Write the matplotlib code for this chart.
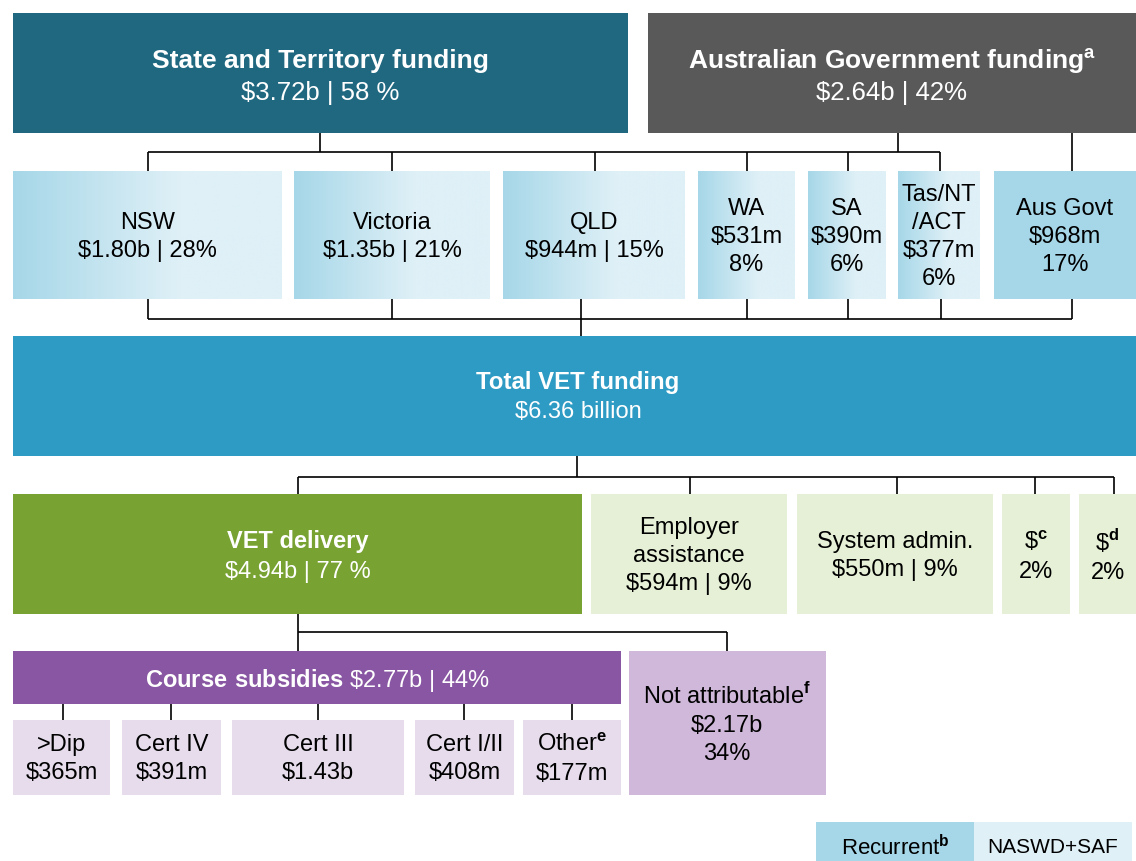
import matplotlib
matplotlib.use("Agg")
import numpy as np
from matplotlib import pyplot as plt
from matplotlib.patches import Rectangle
from matplotlib.colors import LinearSegmentedColormap

plt.rcParams['font.family'] = ['Liberation Sans', 'DejaVu Sans']
plt.rcParams['mathtext.fontset'] = 'custom'
plt.rcParams['mathtext.rm'] = 'Liberation Sans'
plt.rcParams['mathtext.bf'] = 'Liberation Sans:bold'

# funding sources
source_names = ["State and Territory funding", r"Australian Government funding$^{\mathbf{a}}$"]
source_values = ["$3.72b | 58 %", "$2.64b | 42%"]

# jurisdictions (last one is the Aus Govt recurrent share)
jur_names = ["NSW", "Victoria", "QLD", "WA", "SA", "Tas/NT\n/ACT", "Aus Govt"]
jur_amounts = ["$1.80b", "$1.35b", "$944m", "$531m", "$390m", "$377m", "$968m"]
jur_shares = ["28%", "21%", "15%", "8%", "6%", "6%", "17%"]

total_name = "Total VET funding"
total_value = "$6.36 billion"

# uses of funding
use_names = ["VET delivery", "Employer\nassistance", "System admin.",
             r"\$$^{\mathbf{c}}$", r"\$$^{\mathbf{d}}$"]
use_amounts = ["$4.94b", "$594m", "$550m", "", ""]
use_shares = ["77 %", "9%", "9%", "2%", "2%"]

subsidy_value = "$2.77b | 44%"
not_attr_amount = "$2.17b"
not_attr_share = "34%"

levels = [">Dip", "Cert IV", "Cert III", "Cert I/II", r"Other$^{\mathbf{e}}$"]
level_amounts = ["$365m", "$391m", "$1.43b", "$408m", "$177m"]

legend_labels = [r"Recurrent$^{\mathbf{b}}$", "NASWD+SAF"]

# colours
teal = "#1f6880"
grey = "#595959"
blue = "#2e9bc4"
green = "#78a232"
light_green = "#e5f0d6"
purple = "#8856a2"
mid_purple = "#cfb8d9"
light_purple = "#e6dcec"
rec_col = "#a6d7e8"
nas_col = "#dff0f7"

FS = 17

fig = plt.figure(figsize=(11.36, 8.62), dpi=100)
ax = fig.add_axes([0, 0, 1, 1])


def box(x0, y0, x1, y1, color):
    ax.add_patch(Rectangle((x0, y0), x1 - x0, y1 - y0, facecolor=color,
                           edgecolor='none', zorder=1))


def label(x, y, s, color='black', weight='normal', size=FS):
    ax.text(x, y, s, ha='center', va='center', color=color,
            fontweight=weight, fontsize=size, zorder=3, linespacing=1.36)


def lines(pts):
    xs, ys = zip(*pts)
    ax.plot(xs, ys, color='black', lw=1.2, zorder=2, solid_capstyle='butt')


grad_cmap = LinearSegmentedColormap.from_list(
    "rec", [(0, rec_col), (0.62, nas_col), (1, nas_col)])
grad = np.linspace(0, 1, 256)[None, :]

# --- top row
top_boxes = [(13, 628, teal), (648, 1136, grey)]
for (x0, x1, c), name, val in zip(top_boxes, source_names, source_values):
    box(x0, 14, x1, 134, c)
    label((x0 + x1) / 2, 61, name, color='white', weight='bold', size=19)
    label((x0 + x1) / 2, 93, val, color='white', size=18.5)

# --- jurisdictions
jur_x = [(13, 282), (294, 490), (503, 685), (698, 795), (808, 886), (898, 980), (994, 1136)]
jur_sep = [" | ", " | ", " | ", "\n", "\n", "\n", "\n"]
for i, ((x0, x1), name, amt, sh, sep) in enumerate(zip(jur_x, jur_names, jur_amounts,
                                                       jur_shares, jur_sep)):
    if i < 6:
        ax.imshow(grad, cmap=grad_cmap, extent=(x0, x1, 300, 172),
                  aspect='auto', zorder=1)
    else:
        box(x0, 172, x1, 300, rec_col)
    label((x0 + x1) / 2, 237, name + "\n" + amt + sep + sh)

# connectors top -> jurisdictions
top_drops = [148, 392, 595, 747, 848, 940]
lines([(320, 134), (320, 153)])
lines([(898, 134), (898, 153)])
lines([(148, 153), (940, 153)])
for x in top_drops:
    lines([(x, 153), (x, 172)])
lines([(1072, 134), (1072, 172)])

# connectors jurisdictions -> total
bot_drops = [148, 392, 581, 747, 848, 941, 1072]
lines([(148, 320), (1072, 320)])
for x in bot_drops:
    lines([(x, 300), (x, 320)])
lines([(581, 320), (581, 337)])

# --- total
box(13, 337, 1136, 457, blue)
label(578, 383, total_name, color='white', weight='bold', size=17.3)
label(578, 412, total_value, color='white')

# --- uses
use_x = [(13, 582), (591, 787), (797, 993), (1002, 1070), (1079, 1136)]
use_drops = [298, 690, 897, 1035, 1114]
lines([(577, 457), (577, 478)])
lines([(298, 478), (1114, 478)])
for x in use_drops:
    lines([(x, 478), (x, 495)])
for i, ((x0, x1), name, amt, sh) in enumerate(zip(use_x, use_names, use_amounts, use_shares)):
    cx = (x0 + x1) / 2
    if i == 0:
        box(x0, 495, x1, 615, green)
        label(cx, 542, name, color='white', weight='bold')
        label(cx, 572, amt + " | " + sh, color='white')
    else:
        box(x0, 495, x1, 615, light_green)
        val = amt + " | " + sh if amt else sh
        label(cx, 556, name + "\n" + val)

# --- VET delivery split
lines([(298, 615), (298, 633)])
lines([(298, 633), (727, 633)])
lines([(298, 633), (298, 652)])
lines([(727, 633), (727, 652)])

box(13, 652, 621, 705, purple)
label(317, 681, r"$\mathbf{Course\ subsidies}$ " + subsidy_value.replace("$", r"\$"),
      color='white')

box(629, 652, 826, 796, mid_purple)
label(727, 724, r"Not attributable$^{\mathbf{f}}$" + "\n" + not_attr_amount.replace("$", r"\$")
      + "\n" + not_attr_share)

level_x = [(13, 110), (122, 221), (232, 404), (415, 514), (523, 621)]
level_drops = [63, 171, 318, 464, 572]
for (x0, x1), xd, name, amt in zip(level_x, level_drops, levels, level_amounts):
    lines([(xd, 705), (xd, 721)])
    box(x0, 721, x1, 796, light_purple)
    if "$^" in name:
        amt = amt.replace("$", r"\$")
    label((x0 + x1) / 2, 759, name + "\n" + amt)

# --- legend
box(816, 823, 974, 862, rec_col)
box(974, 823, 1132, 862, nas_col)
label(895, 848, legend_labels[0], size=16)
label(1053, 848, legend_labels[1], size=15)

ax.set_xlim(0, 1136)
ax.set_ylim(862, 0)
ax.axis('off')

fig.savefig("out.png", dpi=100)
